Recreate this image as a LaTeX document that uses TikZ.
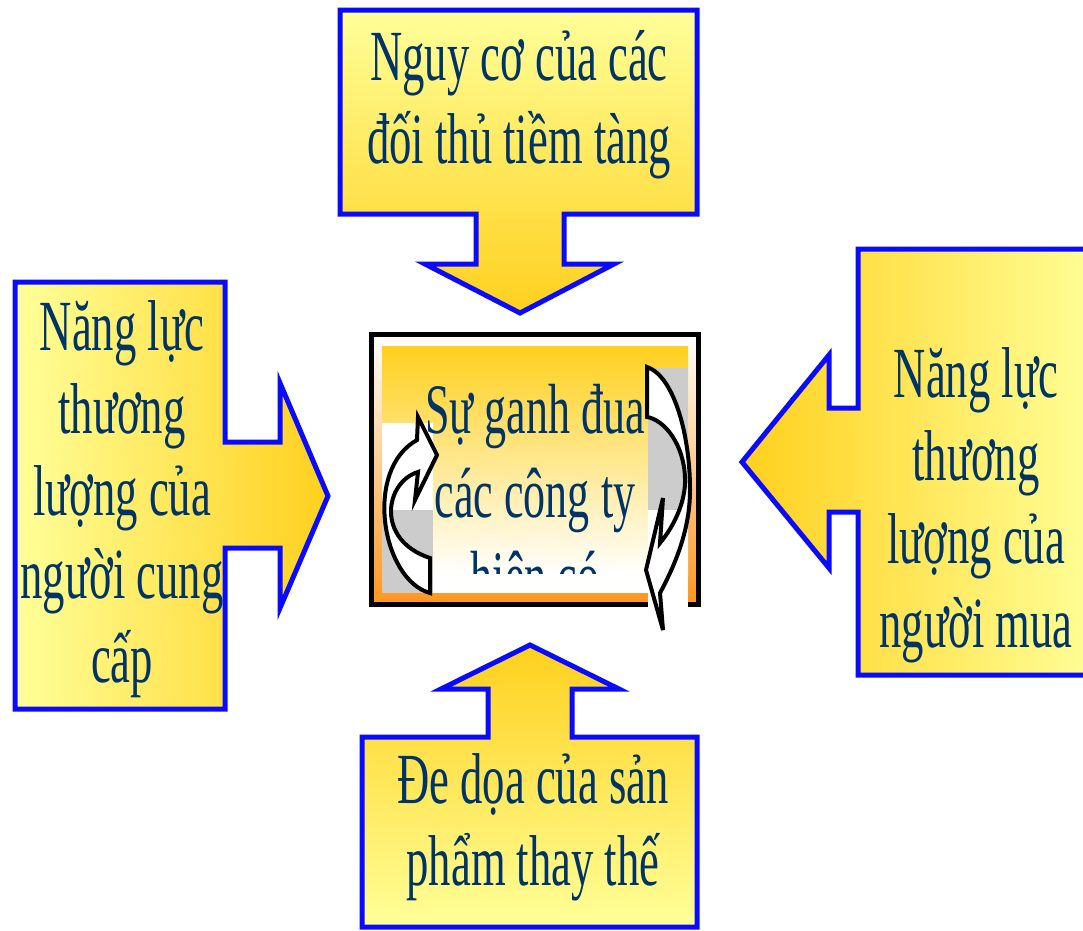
\documentclass[tikz,border=0pt]{standalone}
\usepackage{fontspec}
\setmainfont{Liberation Serif}[FakeStretch=0.62]
\definecolor{cblue}{RGB}{10,10,255}
\definecolor{lightyel}{RGB}{255,255,153}
\definecolor{goldc}{RGB}{255,208,30}
\definecolor{textblue}{RGB}{0,51,102}
\definecolor{orangec}{RGB}{255,150,30}
\definecolor{grayc}{RGB}{204,204,204}
\tikzset{
  callout/.style={draw=cblue, line width=5pt, line join=miter},
  tx/.style={text=textblue, font=\fontsize{72}{83}\selectfont, anchor=base, inner sep=0pt},
  ctx/.style={text=textblue, font=\fontsize{71}{83}\selectfont, anchor=base, inner sep=0pt},
  cyc/.style={draw=black, fill=white, line width=4pt, line join=miter}
}
\begin{document}
\begin{tikzpicture}[x=1pt,y=-1pt]
\useasboundingbox (0,0) rectangle (1083,930);
% top callout
\path[callout, top color=lightyel, bottom color=goldc]
 (340,10) -- (697,10) -- (697,214) -- (564,214) -- (564,264) -- (614,264) -- (520,313)
 -- (425,264) -- (476,264) -- (476,214) -- (340,214) -- cycle;
% left callout
\path[callout, left color=lightyel, right color=goldc]
 (15,282) -- (225,282) -- (225,442) -- (280,442) -- (280,383) -- (328,496) -- (280,608)
 -- (280,548) -- (225,548) -- (225,709) -- (15,709) -- cycle;
% right callout (its right side runs past the picture's edge)
\path[callout, left color=goldc, right color=lightyel]
 (1100,249) -- (858,249) -- (858,408) -- (829,408) -- (829,355) -- (742,462) -- (829,568)
 -- (829,512) -- (858,512) -- (858,675) -- (1100,675) -- cycle;
% bottom callout
\path[callout, top color=goldc, bottom color=lightyel]
 (530,645) -- (619,689) -- (572,689) -- (572,737) -- (697,737) -- (697,927) -- (362,927)
 -- (362,737) -- (488,737) -- (488,689) -- (441,689) -- cycle;
% centre box
\path[draw=black, line width=5pt, top color=white, bottom color=orangec] (371.5,334) rectangle (698,604);
\shade[top color=goldc, bottom color=white] (382,346) rectangle (688,575);
\fill[white] (382,574) rectangle (688,593);
\fill[white] (382,423) rectangle (433,510);
\fill[grayc] (382,510) rectangle (433,593);
\fill[grayc] (648,368) rectangle (688,510);
\fill[white] (648,510) rectangle (688,610);
\begin{scope}
\clip (420,346) rectangle (648,573);
\node[ctx] (c1) at (535,433) {Sự ganh đua};
\node[ctx] (c2) at (535,517) {các công ty};
\node[ctx] (c3) at (535,600) {hiện có};
\end{scope}
% circular arrows
\path[cyc] (418,417) -- (437,455) -- (415,500) -- (418,472)
 .. controls (385,482) and (375,540) .. (430,558) -- (430,593)
 .. controls (382,580) and (363,470) .. (417,440) -- cycle;
\path[cyc] (647,367) .. controls (672,375) and (690,430) .. (690,490)
 .. controls (690,530) and (675,565) .. (660,593) -- (663,630) -- (646,570) -- (663,498) -- (660,543)
 .. controls (675,525) and (686,500) .. (685,478)
 .. controls (684,445) and (665,420) .. (647,417) -- cycle;
% texts
\node[tx] (t1) at (519,80) {Nguy cơ của các};
\node[tx] (t2) at (519,163) {đối thủ tiềm tàng};
\node[tx] (l1) at (122,350) {Năng lực};
\node[tx] (l2) at (122,433) {thương};
\node[tx] (l3) at (122,515) {lượng của};
\node[tx] (l4) at (122,598) {người cung};
\node[tx] (l5) at (122,682) {cấp};
\node[tx] (r1) at (976,397) {Năng lực};
\node[tx] (r2) at (976,480) {thương};
\node[tx] (r3) at (976,563) {lượng của};
\node[tx] (r4) at (976,647) {người mua};
\node[tx] (b1) at (533,803) {Đe dọa của sản};
\node[tx] (b2) at (533,885) {phẩm thay thế};
\end{tikzpicture}
\end{document}
